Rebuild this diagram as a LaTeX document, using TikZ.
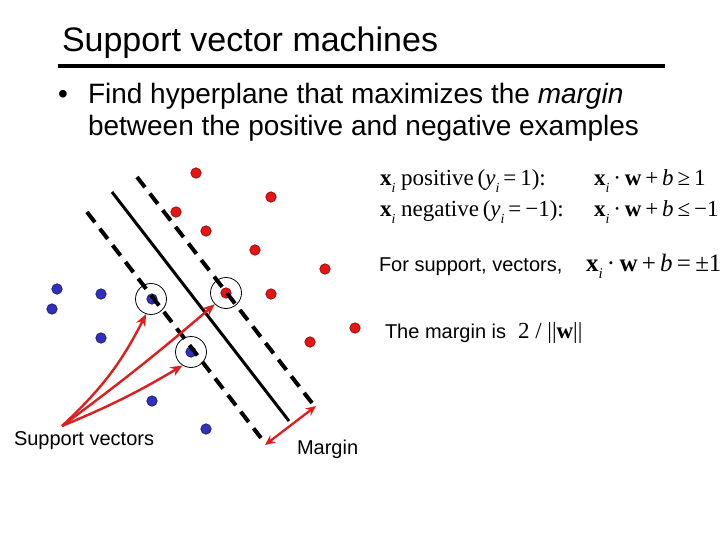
\documentclass[tikz,border=0pt]{standalone}
\usepackage[no-math]{fontspec}
\setmainfont{Liberation Sans}
\newfontfamily\tnr{Liberation Serif}
\usetikzlibrary{arrows.meta}
\definecolor{dotred}{RGB}{232,20,20}
\definecolor{dotblue}{RGB}{48,48,190}
\definecolor{arrred}{RGB}{222,30,30}
\newcommand\mysub[1]{\raisebox{-0.28em}{\fontsize{0.6em}{0.7em}\selectfont\itshape #1}}
\newcommand\bx{\textbf{x}\mysub{i}}
\newcommand\op[1]{\hspace{0.17em}#1\hspace{0.17em}}
\tikzset{
  posdot/.style={circle,fill=dotred,draw=dotred!55!black,line width=0.6pt,minimum size=10.5pt,inner sep=0pt},
  negdot/.style={circle,fill=dotblue,draw=dotblue!50!black,line width=0.6pt,minimum size=10.5pt,inner sep=0pt},
  svring/.style={circle,draw=black,line width=0.8pt,minimum size=31pt,inner sep=0pt},
  txt/.style={anchor=base west,inner sep=0pt,outer sep=0pt},
  eqtxt/.style={anchor=base west,inner sep=0pt,outer sep=0pt,font=\tnr\fontsize{23}{27}\selectfont},
  redarr/.style={draw=arrred,line width=2.4pt,-{Stealth[length=12pt,width=10pt]}},
  margline/.style={black,line width=4pt,dash pattern=on 13pt off 8pt},
  sepline/.style={black,line width=3pt},
}
\begin{document}
\begin{tikzpicture}[x=1pt,y=-1pt]
\useasboundingbox (0,0) rectangle (720,540);
\fill[white] (0,0) rectangle (720,540);
% title
\node[txt,font=\fontsize{34}{40}\selectfont] (title) at (62,52) {Support vector machines};
\draw[line width=4pt] (58,66) -- (665,66);
% bullet
\node[txt,font=\fontsize{28}{33}\selectfont] (bul) at (58,104) {\textbullet};
\node[txt,font=\fontsize{28}{33}\selectfont] (l1) at (88,104) {Find hyperplane that maximizes the \textit{margin}};
\node[txt,font=\fontsize{28}{33}\selectfont] (l2) at (88,136) {between the positive and negative examples};
% equations
\node[eqtxt] (e1a) at (380,186) {\bx{} positive\,(\textit{y}\mysub{i}\op{=}1):};
\node[eqtxt] (e1b) at (594,186) {\bx\op{·}\textbf{w}\op{+}\textit{b}\op{≥}1};
\node[eqtxt] (e2a) at (380,217) {\bx{} negative\,(\textit{y}\mysub{i}\op{=}−1):};
\node[eqtxt] (e2b) at (594,217) {\bx\op{·}\textbf{w}\op{+}\textit{b}\op{≤}−1};
\node[txt,font=\fontsize{20}{24}\selectfont] (fs) at (379,271) {For support, vectors,};
\node[eqtxt,font=\tnr\fontsize{25}{29}\selectfont] (fse) at (586,271) {\bx\op{·}\textbf{w}\op{+}\textit{b}\op{=}±1};
\node[txt,font=\fontsize{20}{24}\selectfont] (tm) at (385,338) {The margin is};
\node[eqtxt] (tme) at (518,338) {2 / ||\textbf{w}||};
% positive points
\node[posdot] (p1) at (196,173) {};
\node[posdot] (p2) at (271,197) {};
\node[posdot] (p3) at (176,212) {};
\node[posdot] (p4) at (206,231) {};
\node[posdot] (p5) at (255,250) {};
\node[posdot] (p6) at (325,269) {};
\node[posdot] (p7) at (226,293) {};
\node[posdot] (p8) at (271,294) {};
\node[posdot] (p9) at (355,328) {};
\node[posdot] (p10) at (310,342) {};
% negative points
\node[negdot] (n1) at (57,289) {};
\node[negdot] (n2) at (52,309) {};
\node[negdot] (n3) at (101,294) {};
\node[negdot] (n4) at (152,299) {};
\node[negdot] (n5) at (101,338) {};
\node[negdot] (n6) at (191,352) {};
\node[negdot] (n7) at (152,401) {};
\node[negdot] (n8) at (206,429) {};
% lines
\coordinate (d1s) at (87,212);
\coordinate (d1e) at (261,438);
\coordinate (d2s) at (137,177);
\coordinate (d2e) at (312,403);
\coordinate (hs) at (112,192);
\coordinate (he) at (289,421);
\draw[margline] (d1s) -- (d1e);
\draw[margline] (d2s) -- (d2e);
\draw[sepline] (hs) -- (he);
% support vector rings
\node[svring] (sv1) at (151,299) {};
\node[svring] (sv2) at (226,293) {};
\node[svring] (sv3) at (191,352) {};
% labels
\node[txt,font=\fontsize{20}{24}\selectfont] (svl) at (14,445) {Support vectors};
\node[txt,font=\fontsize{20}{24}\selectfont] (ml) at (297,454) {Margin};
\coordinate (src) at (62,426);
\draw[redarr] (src) to[bend right=10] (sv1.-108);
\draw[redarr] (src) to[bend right=2] (sv2.-135);
\draw[redarr] (src) to[bend right=4] (sv3.-122);
% margin arrow
\coordinate (m1) at (265,445);
\coordinate (m2) at (316,406);
\draw[draw=arrred,line width=2.3pt,{Stealth[length=10pt,width=9pt]}-{Stealth[length=10pt,width=9pt]}] (m1) -- (m2);
\end{tikzpicture}
\end{document}
